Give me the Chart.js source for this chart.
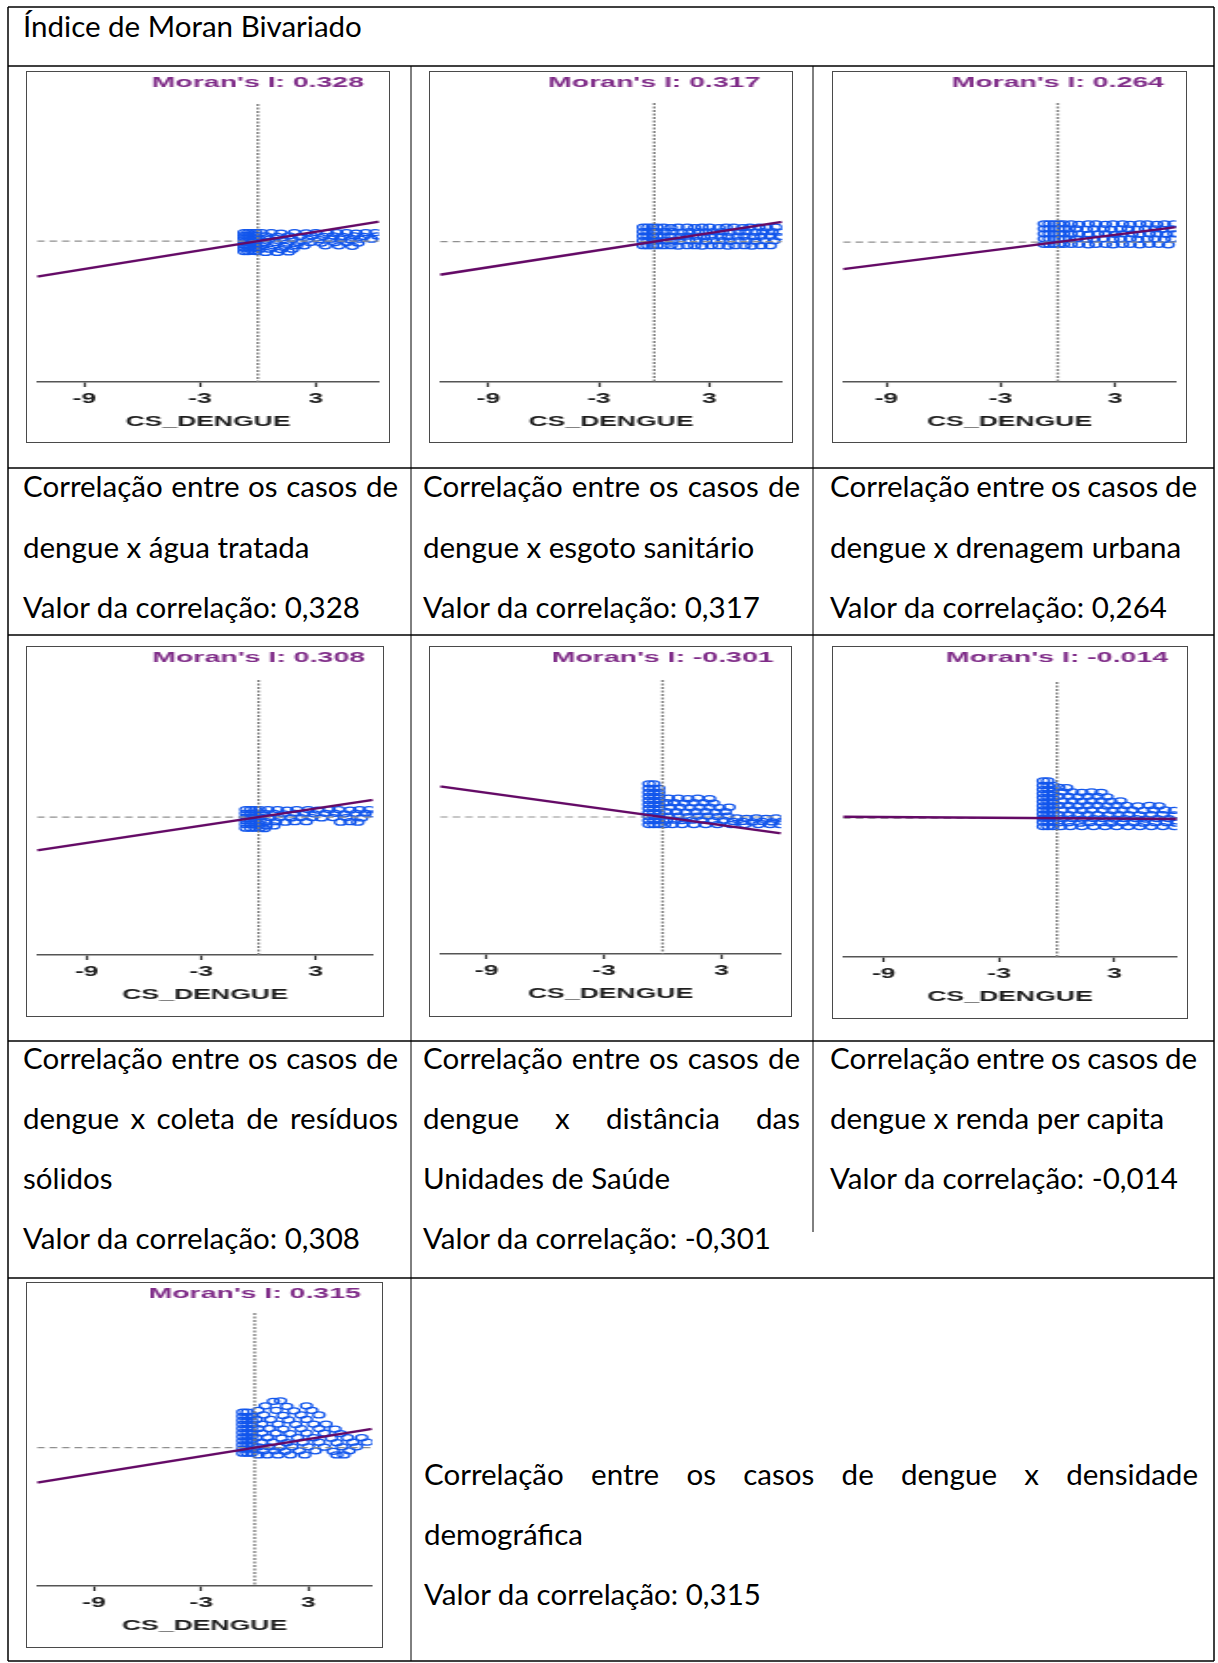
<!DOCTYPE html>
<html><head><meta charset="utf-8">
<script src="https://cdn.jsdelivr.net/npm/chart.js@4.4.1/dist/chart.umd.min.js"></script>
<style>
html,body{margin:0;padding:0;background:#fff;}
#page{position:relative;width:1218px;height:1663px;overflow:hidden;background:#fff;}
#grid{position:absolute;left:0;top:0;}
.frame{position:absolute;box-sizing:border-box;border:1px solid #4a4a4a;background:#fff;}
.frame canvas{display:block;}
svg text{font-family:Lato,"Noto Sans",sans-serif;fill:#000;}
</style></head>
<body><div id="page"><svg id="grid" width="1218" height="1663" xmlns="http://www.w3.org/2000/svg"></svg></div>
<script>
// ---------------- data ----------------
const headerTitle = 'Índice de Moran Bivariado';
const xAxisTitle = 'CS_DENGUE';
const xTickValues = [-9, -3, 3];
const xTickLabels = ['-9', '-3', '3'];
const moranValues = [0.328, 0.317, 0.264, 0.308, -0.301, -0.014, 0.315];
const xMinValues = [-11.46, -11.63, -11.28, -11.61, -11.39, -11.12, -12.2];
const xMaxValues = [6.29, 6.94, 6.21, 6.0, 6.06, 6.24, 6.58];
const yMinValues = [-14.9, -15.6, -15.4, -14.8, -15.3, -15.3, -15.2];
const yMaxValues = [14.5, 15.4, 15.3, 14.7, 15.3, 15.0, 14.8];
const captionTexts = [
  ['Correlação entre os casos de', 'dengue x água tratada'],
  ['Correlação entre os casos de', 'dengue x esgoto sanitário'],
  ['Correlação entre os casos de', 'dengue x drenagem urbana'],
  ['Correlação entre os casos de', 'dengue x coleta de resíduos', 'sólidos'],
  ['Correlação entre os casos de', 'dengue x distância das', 'Unidades de Saúde'],
  ['Correlação entre os casos de', 'dengue x renda per capita'],
  ['Correlação entre os casos de dengue x densidade', 'demográfica']
];
const valuePrefix = 'Valor da correlação: ';

const pointsAgua = [
 [-0.71,-1.1],[-0.71,-0.75],[-0.71,-0.4],[-0.71,-0.05],[-0.71,0.3],[-0.71,0.6],[-0.71,0.9],
 [-0.5,-1.1],[-0.5,-0.75],[-0.5,-0.4],[-0.5,-0.05],[-0.5,0.3],[-0.5,0.6],[-0.5,0.9],
 [-0.3,-1.05],[-0.3,-0.7],[-0.3,-0.35],[-0.3,0.0],[-0.3,0.35],[-0.3,0.65],[-0.3,0.9],
 [-0.1,-1.1],[-0.1,-0.75],[-0.1,-0.4],[-0.1,-0.05],[-0.1,0.3],[-0.1,0.6],[-0.1,0.9],
 [0.2,0.9],[0.7,0.9],[1.2,0.85],[1.9,0.9],[2.5,0.88],[3.0,0.9],[3.6,0.85],[4.1,0.9],[4.6,0.9],[5.1,0.85],[5.6,0.9],[6.1,0.9],
 [0.4,0.55],[1.0,0.5],[1.6,0.55],[2.2,0.5],[2.8,0.55],[3.4,0.5],[3.9,0.55],[4.4,0.5],[5.0,0.55],[5.5,0.5],[6.2,0.55],
 [0.1,0.2],[0.6,0.2],[1.3,0.15],[1.8,0.2],[2.6,0.2],[3.2,0.15],[3.8,0.2],[4.3,0.2],[4.8,0.15],[5.3,0.2],[5.9,0.2],
 [0.3,-0.15],[0.9,-0.15],[1.5,-0.2],[2.1,-0.15],[2.7,-0.15],[3.3,-0.2],[4.0,-0.15],[4.6,-0.15],[5.2,-0.2],
 [0.2,-0.5],[0.8,-0.5],[1.4,-0.55],[2.0,-0.5],[2.4,-0.5],[3.5,-0.5],[4.2,-0.5],[4.9,-0.55],
 [0.1,-0.85],[0.6,-0.85],[1.2,-0.9],[1.8,-0.85],
 [0.4,-1.2],[1.0,-1.2],[1.6,-1.15]
];
const pointsEsgoto = [
 [-0.59,1.6],[-0.59,1.1],[-0.59,0.6],[-0.59,0.1],[-0.59,-0.45],
 [-0.35,1.6],[-0.35,1.1],[-0.35,0.6],[-0.35,0.1],[-0.35,-0.45],
 [-0.1,1.6],[-0.1,1.1],[-0.1,0.6],[-0.1,0.1],[-0.1,-0.45],
 [0.15,1.6],[0.15,1.1],[0.15,0.6],[0.15,0.1],[0.15,-0.45],
 [0.5,1.6],[0.9,1.55],[1.3,1.6],[1.8,1.6],[2.2,1.55],[2.6,1.6],[3.0,1.6],[3.5,1.55],[3.9,1.6],[4.3,1.6],[4.8,1.55],[5.2,1.6],[5.7,1.6],[6.1,1.55],[6.6,1.6],
 [0.6,1.1],[1.0,1.1],[1.5,1.05],[1.9,1.1],[2.4,1.1],[2.8,1.05],[3.2,1.1],[3.7,1.1],[4.1,1.05],[4.6,1.1],[5.0,1.1],[5.5,1.05],[5.9,1.1],[6.4,1.1],[6.8,1.05],
 [0.5,0.6],[0.9,0.6],[1.4,0.55],[1.8,0.6],[2.3,0.6],[2.7,0.55],[3.1,0.6],[3.6,0.6],[4.0,0.55],[4.5,0.6],[4.9,0.6],[5.4,0.55],[5.8,0.6],[6.3,0.6],[6.8,0.55],
 [0.6,0.1],[1.0,0.1],[1.4,0.05],[1.9,0.1],[2.3,0.1],[2.8,0.05],[3.2,0.1],[3.7,0.1],[4.1,0.05],[4.6,0.1],[5.0,0.1],[5.5,0.05],[6.0,0.1],[6.5,0.1],
 [0.5,-0.45],[0.9,-0.45],[1.3,-0.5],[1.8,-0.45],[2.2,-0.45],[2.6,-0.5],[3.1,-0.45],[3.5,-0.45],[4.0,-0.5],[4.4,-0.45],[4.9,-0.45],[5.3,-0.5],[5.8,-0.45],[6.3,-0.45]
];
const pointsDrenagem = [
 [-0.71,2.0],[-0.71,1.45],[-0.71,0.9],[-0.71,0.35],[-0.71,-0.25],
 [-0.45,2.0],[-0.45,1.45],[-0.45,0.9],[-0.45,0.35],[-0.45,-0.25],
 [-0.2,2.0],[-0.2,1.45],[-0.2,0.9],[-0.2,0.35],[-0.2,-0.25],
 [0.05,2.0],[0.05,1.45],[0.05,0.9],[0.05,0.35],[0.05,-0.25],
 [0.3,2.0],[0.3,1.45],[0.3,0.9],[0.3,0.35],[0.3,-0.25],
 [0.7,2.0],[1.1,1.95],[1.6,2.0],[2.0,2.0],[2.5,1.95],[2.9,2.0],[3.4,2.0],[3.8,1.95],[4.3,2.0],[4.7,2.0],[5.2,1.95],[5.6,2.0],[6.1,2.0],
 [0.6,1.45],[1.0,1.45],[1.5,1.4],[1.9,1.45],[2.4,1.45],[2.8,1.4],[3.3,1.45],[3.7,1.45],[4.2,1.4],[4.6,1.45],[5.1,1.45],[5.5,1.4],[6.0,1.45],
 [0.7,0.9],[1.1,0.9],[1.6,0.85],[2.1,0.9],[2.5,0.9],[3.0,0.85],[3.4,0.9],[3.9,0.9],[4.3,0.85],[4.8,0.9],[5.2,0.9],[5.7,0.85],[6.1,0.9],
 [0.6,0.35],[1.0,0.35],[1.5,0.3],[1.9,0.35],[2.4,0.35],[2.9,0.3],[3.3,0.35],[3.8,0.35],[4.2,0.3],[4.7,0.35],[5.1,0.35],[5.6,0.3],[6.0,0.35],
 [0.7,-0.25],[1.1,-0.25],[1.6,-0.3],[2.0,-0.25],[2.5,-0.25],[2.9,-0.3],[3.4,-0.25],[3.8,-0.25],[4.3,-0.3],[4.8,-0.25],[5.3,-0.25],[5.8,-0.3]
];
const pointsResiduos = [
 [-0.66,0.8],[-0.66,0.4],[-0.66,0.0],[-0.66,-0.4],[-0.66,-0.8],[-0.66,-1.2],
 [-0.42,0.8],[-0.42,0.4],[-0.42,0.0],[-0.42,-0.4],[-0.42,-0.8],[-0.42,-1.2],
 [-0.18,0.8],[-0.18,0.4],[-0.18,0.0],[-0.18,-0.4],[-0.18,-0.8],[-0.18,-1.2],
 [0.06,0.8],[0.06,0.4],[0.06,0.0],[0.06,-0.4],[0.06,-0.8],[0.06,-1.2],
 [0.5,0.8],[1.0,0.8],[1.5,0.75],[2.0,0.8],[2.6,0.8],[3.1,0.75],[3.7,0.8],[4.2,0.8],[4.8,0.75],[5.3,0.8],[5.8,0.8],
 [0.3,0.4],[0.8,0.4],[1.3,0.35],[1.9,0.4],[2.4,0.4],[2.9,0.35],[3.5,0.4],[4.0,0.4],[4.5,0.35],[5.1,0.4],[5.6,0.4],[6.0,0.35],
 [0.6,-0.05],[1.1,-0.05],[1.7,-0.1],[2.2,-0.05],[2.8,-0.05],[3.3,-0.1],[3.9,-0.05],[4.6,-0.05],[5.4,-0.1],
 [0.4,-0.5],[0.9,-0.5],[1.4,-0.55],[1.9,-0.5],[2.5,-0.5],[4.3,-0.55],[4.8,-0.5],[5.2,-0.55],
 [0.4,-0.95],[0.8,-0.95],
 [0.3,-1.25]
];
const pointsDistancia = [
 [-0.7,-0.84],[-0.7,-0.4],[-0.7,0.05],[-0.7,0.5],[-0.7,0.95],[-0.7,1.4],[-0.7,1.85],[-0.7,2.3],[-0.7,2.75],[-0.7,3.2],[-0.7,3.7],
 [-0.45,-0.84],[-0.45,-0.4],[-0.45,0.05],[-0.45,0.5],[-0.45,0.95],[-0.45,1.4],[-0.45,1.85],[-0.45,2.3],[-0.45,2.75],[-0.45,3.2],[-0.45,3.7],
 [-0.2,-0.84],[-0.2,-0.4],[-0.2,0.05],[-0.2,0.5],[-0.2,0.95],[-0.2,1.4],[-0.2,1.85],[-0.2,2.3],[-0.2,2.75],[-0.2,3.2],
 [0.3,2.1],[0.8,2.1],[1.3,2.05],[1.8,2.1],[2.4,2.05],
 [0.2,1.6],[0.6,1.6],[1.1,1.55],[1.6,1.6],[2.1,1.6],[2.6,1.55],
 [0.4,1.1],[0.9,1.1],[1.4,1.05],[1.9,1.1],[2.4,1.1],[2.9,1.05],[3.4,1.1],
 [0.2,0.6],[0.7,0.6],[1.2,0.55],[1.7,0.6],[2.2,0.6],[2.7,0.55],[3.2,0.6],
 [0.3,0.1],[0.8,0.1],[1.3,0.05],[1.8,0.1],[2.3,0.1],[2.8,0.05],[3.3,0.1],[3.8,-0.1],[4.3,-0.15],[4.8,-0.1],[5.3,-0.15],[5.8,-0.1],
 [0.2,-0.35],[0.6,-0.35],[1.0,-0.4],[1.5,-0.35],[2.0,-0.35],[2.6,-0.4],[3.1,-0.35],[3.6,-0.5],[4.1,-0.5],[4.6,-0.55],[5.1,-0.5],[5.6,-0.55],[6.1,-0.5],
 [0.1,-0.85],[0.5,-0.85],[1.0,-0.85],[1.6,-0.85],[2.2,-0.85],[2.8,-0.85],[3.5,-0.85],[4.2,-0.85],[4.9,-0.85],[5.5,-0.85],[6.0,-0.85]
];
const pointsRenda = [
 [-0.71,-0.93],[-0.71,-0.45],[-0.71,0.0],[-0.71,0.45],[-0.71,0.9],[-0.71,1.35],[-0.71,1.8],[-0.71,2.25],[-0.71,2.7],[-0.71,3.15],[-0.71,3.6],[-0.71,4.1],
 [-0.47,-0.93],[-0.47,-0.45],[-0.47,0.0],[-0.47,0.45],[-0.47,0.9],[-0.47,1.35],[-0.47,1.8],[-0.47,2.25],[-0.47,2.7],[-0.47,3.15],[-0.47,3.6],[-0.47,4.1],
 [-0.23,-0.93],[-0.23,-0.45],[-0.23,0.0],[-0.23,0.45],[-0.23,0.9],[-0.23,1.35],[-0.23,1.8],[-0.23,2.25],[-0.23,2.7],[-0.23,3.15],[-0.23,3.6],
 [0.1,3.4],[0.5,3.35],
 [0.3,2.9],[0.8,2.9],[1.3,2.85],[1.8,2.9],[2.3,2.85],
 [0.1,2.4],[0.6,2.4],[1.1,2.35],[1.6,2.4],[2.1,2.4],[2.6,2.35],
 [0.3,1.9],[0.8,1.9],[1.3,1.85],[1.8,1.9],[2.3,1.9],[2.8,1.85],[3.3,1.9],
 [0.1,1.4],[0.6,1.4],[1.1,1.35],[1.6,1.4],[2.1,1.4],[2.6,1.35],[3.1,1.4],[3.6,1.4],[4.2,1.35],[4.8,1.4],[5.3,1.35],
 [0.3,0.9],[0.8,0.9],[1.3,0.85],[1.8,0.9],[2.4,0.9],[2.9,0.85],[3.4,0.9],[3.9,0.9],[4.5,0.85],[5.0,0.9],[5.6,0.9],[6.1,0.85],
 [0.1,0.4],[0.6,0.4],[1.1,0.35],[1.6,0.4],[2.1,0.4],[2.7,0.35],[3.2,0.4],[3.7,0.4],[4.3,0.35],[4.9,0.4],[5.5,0.4],[6.1,0.35],
 [0.3,-0.05],[0.8,-0.05],[1.3,-0.1],[1.9,-0.05],[2.4,-0.05],[3.0,-0.1],[3.5,-0.05],[4.1,-0.05],[4.6,-0.1],[5.2,-0.05],[5.8,-0.05],
 [0.1,-0.5],[0.6,-0.5],[1.2,-0.55],[1.7,-0.5],[2.3,-0.5],[2.8,-0.55],[3.4,-0.5],[4.0,-0.5],[4.5,-0.55],[5.1,-0.5],[5.7,-0.5],[6.2,-0.55],
 [0.2,-0.93],[0.7,-0.93],[1.3,-0.93],[1.9,-0.93],[2.5,-0.93],[3.1,-0.93],[3.7,-0.93],[4.3,-0.93],[4.9,-0.93],[5.5,-0.93],[6.1,-0.93]
];
const pointsDensidade = [
 [-0.66,-0.6],[-0.66,-0.15],[-0.66,0.3],[-0.66,0.75],[-0.66,1.2],[-0.66,1.65],[-0.66,2.1],[-0.66,2.55],[-0.66,3.0],[-0.66,3.45],[-0.66,3.9],
 [-0.42,-0.6],[-0.42,-0.15],[-0.42,0.3],[-0.42,0.75],[-0.42,1.2],[-0.42,1.65],[-0.42,2.1],[-0.42,2.55],[-0.42,3.0],[-0.42,3.45],[-0.42,3.9],
 [-0.18,-0.6],[-0.18,-0.15],[-0.18,0.3],[-0.18,0.75],[-0.18,1.2],[-0.18,1.65],[-0.18,2.1],[-0.18,2.55],[-0.18,3.0],[-0.18,3.45],
 [1.05,5.1],[1.45,5.15],
 [0.6,4.6],[1.8,4.55],[2.9,4.6],
 [0.2,4.1],[1.2,4.1],[2.2,4.05],[3.2,4.1],
 [0.5,3.6],[1.6,3.55],[2.6,3.6],[3.6,3.6],
 [0.1,3.1],[0.9,3.1],[1.9,3.05],[2.9,3.1],
 [0.4,2.6],[1.3,2.6],[2.3,2.55],[3.3,2.6],[4.0,2.6],
 [0.2,2.1],[0.8,2.1],[1.6,2.05],[2.6,2.1],[3.6,2.1],[4.5,2.05],
 [0.4,1.6],[1.2,1.6],[2.0,1.55],[2.9,1.6],[3.9,1.6],[4.8,1.55],
 [0.1,1.1],[0.7,1.1],[1.5,1.05],[2.4,1.1],[3.3,1.1],[4.3,1.05],[5.2,1.1],[6.0,1.1],
 [0.4,0.6],[1.0,0.6],[1.8,0.55],[2.7,0.6],[3.6,0.6],[4.6,0.55],[5.5,0.6],[6.3,0.6],
 [0.2,0.1],[0.8,0.1],[1.4,0.05],[2.1,0.1],[3.0,0.1],[3.9,0.05],[4.9,0.1],[5.7,0.1],
 [0.5,-0.35],[1.1,-0.35],[1.7,-0.4],[2.5,-0.35],[3.4,-0.35],[4.4,-0.4],[5.3,-0.35],
 [0.2,-0.8],[0.7,-0.8],[1.3,-0.8],[2.0,-0.8],[2.8,-0.8],[4.6,-0.8],[5.0,-0.8]
];
const pointSets = [pointsAgua, pointsEsgoto, pointsDrenagem, pointsResiduos, pointsDistancia, pointsRenda, pointsDensidade];

// ---------------- layout (positions / styles only) ----------------
const STRETCH = 1.9;
const frames = [
  {left:26,  top:71,   w:364, h:372, plotTop:104,  axisY:382,  moranY:83},
  {left:429, top:71,   w:364, h:372, plotTop:103,  axisY:382,  moranY:83},
  {left:832, top:71,   w:355, h:372, plotTop:103,  axisY:382,  moranY:83},
  {left:26,  top:646,  w:358, h:371, plotTop:680,  axisY:955,  moranY:658},
  {left:429, top:646,  w:363, h:371, plotTop:680,  axisY:954,  moranY:658},
  {left:832, top:646,  w:356, h:373, plotTop:682,  axisY:957,  moranY:658},
  {left:26,  top:1282, w:357, h:366, plotTop:1313, axisY:1586, moranY:1294}
];
const cells = [
  {x:23,  w:375, y0:497,  step:60.5},
  {x:423, w:377, y0:497,  step:60.5},
  {x:830, w:367, y0:497,  step:60.5},
  {x:23,  w:375, y0:1069, step:60},
  {x:423, w:377, y0:1069, step:60},
  {x:830, w:367, y0:1069, step:60},
  {x:424, w:774, y0:1485, step:60}
];
const SVGNS = 'http://www.w3.org/2000/svg';
const svg = document.getElementById('grid');
function line(x1,y1,x2,y2,w){const l=document.createElementNS(SVGNS,'line');l.setAttribute('x1',x1);l.setAttribute('y1',y1);l.setAttribute('x2',x2);l.setAttribute('y2',y2);l.setAttribute('stroke','#000');l.setAttribute('stroke-width',w);svg.appendChild(l);}
function text(str,x,y,size){const t=document.createElementNS(SVGNS,'text');t.setAttribute('x',x);t.setAttribute('y',y);t.setAttribute('font-size',size);t.textContent=str;svg.appendChild(t);return t;}

// table borders
line(8,7,1214,7,1.5); line(8,1661,1214,1661,1.5);
line(8,7,8,1661,1.5); line(1214,7,1214,1661,1.5);
[66,468,635,1041,1278].forEach(y=>line(8,y,1214,y,1.6));
line(411,66,411,1661,1);
line(813,66,813,1232,1);

// font size fitted to the reference width of a caption line
const probe = text('Valor da correlação: 0,308',0,-100,100);
const FS = 100*337/probe.getComputedTextLength();
svg.removeChild(probe);

text(headerTitle,23,37,FS);
captionTexts.forEach((lines,i)=>{
  const c = cells[i];
  const all = lines.concat([valuePrefix + moranValues[i].toFixed(3).replace('.', ',')]);
  all.forEach((s,k)=>{
    const t = text(s,c.x,c.y0 + k*c.step,FS);
    if (k < lines.length-1) {
      const nat = t.getComputedTextLength();
      const spaces = (s.match(/ /g)||[]).length;
      if (spaces>0) t.setAttribute('word-spacing', ((c.w-nat)/spaces).toFixed(2));
    }
  });
});

// ---------------- charts ----------------
const AXIS_FONT = '"Liberation Sans", Arial, sans-serif';
const refLinesPlugin = {
  id:'refLines',
  afterDatasetDraw(chart,args){
    if (args.index !== 1) return;
    const {ctx, chartArea:a, scales:{x,y}} = chart;
    const px = x.getPixelForValue(0), py = y.getPixelForValue(0);
    ctx.save();
    ctx.beginPath(); ctx.rect(a.left,a.top,a.right-a.left,a.bottom-a.top); ctx.clip();
    ctx.strokeStyle='#7d7d7d'; ctx.lineWidth=1.35; ctx.setLineDash([2,1.5]);
    ctx.beginPath(); ctx.moveTo(px,a.top); ctx.lineTo(px,a.bottom); ctx.stroke();
    ctx.strokeStyle='#8f8f8f'; ctx.lineWidth=1.2; ctx.setLineDash([4,2.6]);
    ctx.beginPath(); ctx.moveTo(a.left,py); ctx.lineTo(a.right,py); ctx.stroke();
    ctx.restore();
  }
};
const moranLabelPlugin = {
  id:'moranLabel',
  afterDraw(chart,args,opts){
    const {ctx, scales:{x}} = chart;
    ctx.save();
    ctx.font = 'bold 15px ' + AXIS_FONT;
    ctx.fillStyle = '#7f2c88';
    ctx.textAlign = 'center'; ctx.textBaseline = 'middle';
    ctx.fillText("Moran's I: " + opts.value.toFixed(3), x.getPixelForValue(0), opts.y);
    ctx.restore();
  }
};

const page = document.getElementById('page');
frames.forEach((L,i)=>{
  const div = document.createElement('div');
  div.className='frame';
  div.style.left=L.left+'px'; div.style.top=L.top+'px';
  div.style.width=L.w+'px'; div.style.height=L.h+'px';
  const W = L.w-2, H = L.h-2;
  const canvas = document.createElement('canvas');
  canvas.width = Math.round(W/STRETCH); canvas.height = H;
  canvas.style.width = W+'px'; canvas.style.height = H+'px';
  div.appendChild(canvas); page.appendChild(div);
  const innerTop = L.top+1;
  const plotTop = L.plotTop-innerTop;
  const axisRel = L.axisY-innerTop;
  const scaleH = H-axisRel;
  const xMin = xMinValues[i], xMax = xMaxValues[i], slope = moranValues[i];
  new Chart(canvas,{
    type:'scatter',
    data:{datasets:[
      {type:'line', data:[{x:xMin,y:slope*xMin},{x:xMax,y:slope*xMax}], borderColor:'#640a66', borderWidth:2.4, pointRadius:0, fill:false, clip:0, order:0},
      {type:'scatter', data:pointSets[i].map(p=>({x:p[0],y:p[1]})), pointStyle:'circle', pointRadius:3, borderColor:'#1256ec', backgroundColor:'rgba(255,255,255,0)', borderWidth:1.25, clip:0, order:1}
    ]},
    options:{
      responsive:false, animation:false, devicePixelRatio:1, events:[],
      layout:{padding:{top:plotTop,left:0,right:0,bottom:0}},
      plugins:{legend:{display:false}, tooltip:{enabled:false}, moranLabel:{value:moranValues[i], y:L.moranY-innerTop}},
      scales:{
        x:{type:'linear', min:xMin, max:xMax,
          afterBuildTicks:s=>{s.ticks = xTickValues.map(v=>({value:v}));},
          afterFit:s=>{s.height = scaleH;},
          grid:{drawOnChartArea:false, drawTicks:true, tickLength:5, tickColor:'#333', tickWidth:1.2},
          border:{display:true, color:'#555', width:1.5},
          ticks:{autoSkip:false, maxRotation:0, padding:3.6, color:'#1e1e1e',
            font:{family:AXIS_FONT, size:14, weight:'bold'},
            callback:(v)=>{const k=xTickValues.indexOf(v); return k>=0?xTickLabels[k]:'';}},
          title:{display:true, text:xAxisTitle, color:'#1e1e1e',
            font:{family:AXIS_FONT, size:14, weight:'bold'},
            padding:{top:0,bottom:Math.max(0,scaleH-40-8.4)}}
        },
        y:{display:false, min:yMinValues[i], max:yMaxValues[i]}
      }
    },
    plugins:[refLinesPlugin, moranLabelPlugin]
  });
});
</script>
</body></html>
